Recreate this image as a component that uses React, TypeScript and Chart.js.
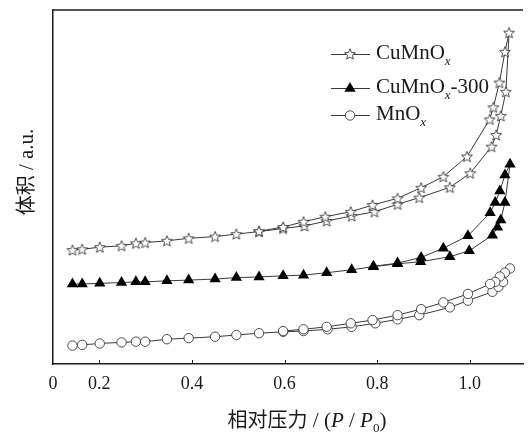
import React, { useEffect, useRef } from 'react';
import { Chart, registerables } from 'chart.js';

Chart.register(...registerables);

// ---------- data ----------
const xTickValues = [0.1, 0.2, 0.4, 0.6, 0.8, 1.0];
const xTickLabels = ['0', '0.2', '0.4', '0.6', '0.8', '1.0'];
const xInnerTicks = [0.2, 0.4, 0.6, 0.8, 1.0];

// CuMnOx (stars): adsorption then desorption
const cuAdsP = [0.142, 0.163, 0.201, 0.248, 0.279, 0.299, 0.346, 0.393, 0.450, 0.496, 0.545, 0.597, 0.643, 0.691, 0.745, 0.794, 0.844, 0.891, 0.957, 1.001, 1.047, 1.057, 1.067, 1.078, 1.085];
const cuAdsV = [32.2, 32.4, 33.0, 33.4, 34.1, 34.3, 34.8, 35.5, 36.0, 36.7, 37.4, 38.3, 39.0, 40.4, 41.8, 43.0, 45.1, 47.0, 49.9, 53.9, 61.4, 64.7, 70.1, 76.9, 93.6];
const cuDesP = [1.076, 1.064, 1.051, 1.043, 0.994, 0.943, 0.895, 0.844, 0.790, 0.743, 0.688, 0.641, 0.597, 0.545];
const cuDesV = [88.2, 79.5, 72.5, 69.1, 58.6, 52.9, 49.8, 46.8, 44.9, 43.0, 41.6, 40.2, 38.7, 37.5];

// CuMnOx-300 (triangles)
const cu300AdsP = [0.142, 0.163, 0.201, 0.248, 0.279, 0.299, 0.346, 0.393, 0.450, 0.496, 0.545, 0.597, 0.641, 0.691, 0.745, 0.792, 0.844, 0.894, 0.957, 0.999, 1.049, 1.060, 1.067, 1.076, 1.087];
const cu300AdsV = [22.6, 22.6, 22.8, 23.0, 23.2, 23.2, 23.5, 23.7, 24.0, 24.4, 24.6, 24.9, 25.1, 25.8, 26.6, 27.5, 28.3, 28.9, 30.3, 32.0, 36.4, 38.6, 40.7, 45.6, 56.4];
const cu300DesP = [1.076, 1.065, 1.055, 1.044, 0.996, 0.943, 0.895, 0.844, 0.792];
const cu300DesV = [53.4, 48.9, 45.6, 42.7, 36.2, 32.7, 30.1, 28.5, 27.6];

// MnOx (circles)
const mnAdsP = [0.142, 0.163, 0.201, 0.248, 0.279, 0.299, 0.346, 0.393, 0.450, 0.496, 0.545, 0.597, 0.641, 0.693, 0.745, 0.796, 0.844, 0.891, 0.957, 0.996, 1.049, 1.062, 1.072, 1.087];
const mnAdsV = [5.2, 5.4, 5.8, 6.1, 6.3, 6.3, 7.0, 7.3, 7.7, 8.2, 8.7, 9.1, 9.3, 9.8, 10.5, 11.5, 12.6, 13.8, 16.0, 17.9, 20.4, 21.8, 23.2, 27.0];
const mnDesP = [1.076, 1.065, 1.055, 1.044, 0.996, 0.943, 0.895, 0.844, 0.790, 0.743, 0.691, 0.641, 0.597];
const mnDesV = [25.8, 24.7, 23.2, 22.6, 19.8, 17.4, 15.5, 13.8, 12.4, 11.5, 10.5, 9.8, 9.3];

const seriesBase = ['CuMnO', 'CuMnO', 'MnO'];
const seriesSuffix = ['', '-300', ''];

const SERIF = '"Liberation Serif", "Times New Roman", serif';
const CJK = '"Noto Sans CJK SC", sans-serif';
const LINE = '#3a3a3a';
const INK = '#1a1a1a';

function loop(aP: number[], aV: number[], dP: number[], dV: number[]) {
  return [
    ...aP.map((x, i) => ({ x, y: aV[i] })),
    ...dP.map((x, i) => ({ x, y: dV[i] })),
  ];
}

function makeStar(): HTMLCanvasElement {
  const c = document.createElement('canvas');
  c.width = 14;
  c.height = 14;
  const g = c.getContext('2d')!;
  g.beginPath();
  for (let i = 0; i < 10; i++) {
    const r = i % 2 === 0 ? 5.7 : 2.5;
    const a = -Math.PI / 2 + (i * Math.PI) / 5;
    const px = 7 + r * Math.cos(a);
    const py = 7.5 + r * Math.sin(a);
    if (i === 0) g.moveTo(px, py);
    else g.lineTo(px, py);
  }
  g.closePath();
  g.fillStyle = '#fff';
  g.fill();
  g.lineWidth = 0.8;
  g.strokeStyle = '#222';
  g.stroke();
  return c;
}

type Seg = { t: string; f: string; dy?: number };

function drawSegs(ctx: CanvasRenderingContext2D, segs: Seg[], cx: number, baseY: number, align: 'center' | 'left') {
  let total = 0;
  const widths = segs.map((s) => {
    ctx.font = s.f;
    const w = ctx.measureText(s.t).width;
    total += w;
    return w;
  });
  let x = align === 'center' ? cx - total / 2 : cx;
  ctx.textAlign = 'left';
  ctx.textBaseline = 'alphabetic';
  segs.forEach((s, i) => {
    ctx.font = s.f;
    ctx.fillText(s.t, x, baseY + (s.dy || 0));
    x += widths[i];
  });
}

function drawTriangle(ctx: CanvasRenderingContext2D, x: number, y: number, r: number) {
  let rad = 0;
  const step = (2 * Math.PI) / 3;
  ctx.beginPath();
  ctx.moveTo(x + Math.sin(rad) * r, y - Math.cos(rad) * r);
  rad += step;
  ctx.lineTo(x + Math.sin(rad) * r, y - Math.cos(rad) * r);
  rad += step;
  ctx.lineTo(x + Math.sin(rad) * r, y - Math.cos(rad) * r);
  ctx.closePath();
  ctx.fillStyle = '#000';
  ctx.fill();
}

export default function App() {
  const ref = useRef<HTMLCanvasElement>(null);

  useEffect(() => {
    document.body.style.margin = '0';
    const canvas = ref.current!;
    const star = makeStar();

    const decor = {
      id: 'decor',
      afterDraw(chart: any) {
        const { ctx, chartArea } = chart;
        const xs = chart.scales.x;
        ctx.save();
        // top frame line
        ctx.strokeStyle = INK;
        ctx.lineWidth = 1.5;
        ctx.beginPath();
        ctx.moveTo(chartArea.left - 0.75, chartArea.top);
        ctx.lineTo(chartArea.right, chartArea.top);
        ctx.stroke();
        // inner tick marks
        ctx.lineWidth = 1;
        xInnerTicks.forEach((v) => {
          const px = Math.round(xs.getPixelForValue(v)) + 0.5;
          ctx.beginPath();
          ctx.moveTo(px, chartArea.bottom);
          ctx.lineTo(px, chartArea.bottom - 4);
          ctx.stroke();
        });

        // legend
        const rows = [54, 88, 115];
        ctx.fillStyle = INK;
        rows.forEach((ry, i) => {
          ctx.strokeStyle = LINE;
          ctx.lineWidth = 1;
          ctx.beginPath();
          ctx.moveTo(331, ry + 0.5);
          ctx.lineTo(370, ry + 0.5);
          ctx.stroke();
          if (i === 0) {
            ctx.drawImage(star, 350 - 7, ry - 7);
          } else if (i === 1) {
            drawTriangle(ctx, 350, ry + 0.5, 6.5);
          } else {
            ctx.beginPath();
            ctx.arc(350, ry + 0.5, 4.7, 0, Math.PI * 2);
            ctx.fillStyle = '#fff';
            ctx.fill();
            ctx.strokeStyle = LINE;
            ctx.lineWidth = 0.9;
            ctx.stroke();
          }
          ctx.fillStyle = INK;
          const segs: Seg[] = [
            { t: seriesBase[i], f: `21px ${SERIF}` },
            { t: 'x', f: `italic 13px ${SERIF}`, dy: 6 },
          ];
          if (seriesSuffix[i]) segs.push({ t: seriesSuffix[i], f: `21px ${SERIF}` });
          drawSegs(ctx, segs, 376, ry + 5, 'left');
        });

        // x title
        ctx.fillStyle = INK;
        drawSegs(
          ctx,
          [
            { t: '相对压力', f: `20px ${CJK}` },
            { t: ' / (', f: `21px ${SERIF}` },
            { t: 'P', f: `italic 21px ${SERIF}` },
            { t: ' / ', f: `21px ${SERIF}` },
            { t: 'P', f: `italic 21px ${SERIF}` },
            { t: '0', f: `13px ${SERIF}`, dy: 5 },
            { t: ')', f: `21px ${SERIF}` },
          ],
          307,
          427,
          'center'
        );

        // y title
        ctx.translate(33, 172);
        ctx.rotate(-Math.PI / 2);
        drawSegs(
          ctx,
          [
            { t: '体积', f: `20px ${CJK}` },
            { t: ' / ', f: `21px ${SERIF}` },
            { t: 'a.u.', f: `21px ${SERIF}` },
          ],
          0,
          0,
          'center'
        );
        ctx.restore();
      },
    };

    const chart = new Chart(canvas, {
      type: 'line',
      data: {
        datasets: [
          {
            label: 'CuMnOx',
            data: loop(cuAdsP, cuAdsV, cuDesP, cuDesV),
            borderColor: LINE,
            borderWidth: 1,
            pointStyle: star as any,
            pointRadius: 6,
            pointHoverRadius: 6,
          },
          {
            label: 'CuMnOx-300',
            data: loop(cu300AdsP, cu300AdsV, cu300DesP, cu300DesV),
            borderColor: LINE,
            borderWidth: 1,
            pointStyle: 'triangle',
            pointRadius: 6.5,
            pointBackgroundColor: '#000',
            pointBorderColor: '#000',
            pointBorderWidth: 0,
          },
          {
            label: 'MnOx',
            data: loop(mnAdsP, mnAdsV, mnDesP, mnDesV),
            borderColor: LINE,
            borderWidth: 1,
            pointStyle: 'circle',
            pointRadius: 4.7,
            pointBackgroundColor: '#fff',
            pointBorderColor: LINE,
            pointBorderWidth: 0.9,
          },
        ],
      },
      options: {
        animation: false,
        responsive: false,
        events: [],
        layout: { padding: { top: 10, right: 0, left: 0, bottom: 0 } },
        plugins: { legend: { display: false }, tooltip: { enabled: false } },
        elements: { line: { tension: 0 } },
        scales: {
          x: {
            type: 'linear',
            min: 0.1,
            max: 1.115,
            grid: { display: false, drawTicks: false },
            border: { display: true, color: INK, width: 1.5 },
            afterBuildTicks: (scale: any) => {
              scale.ticks = xTickValues.map((v) => ({ value: v }));
            },
            afterFit: (scale: any) => {
              scale.height = 69;
            },
            ticks: {
              autoSkip: false,
              maxRotation: 0,
              padding: 9,
              color: INK,
              font: { family: SERIF, size: 18 },
              callback: (v: any) => {
                const i = xTickValues.findIndex((t) => Math.abs(t - Number(v)) < 1e-6);
                return i >= 0 ? xTickLabels[i] : '';
              },
            },
          },
          y: {
            type: 'linear',
            min: 0,
            max: 100,
            grid: { display: false, drawTicks: false },
            border: { display: true, color: INK, width: 1.5 },
            ticks: { display: false },
            afterFit: (scale: any) => {
              scale.width = 53;
            },
          },
        },
      },
      plugins: [decor],
    });

    return () => chart.destroy();
  }, []);

  return (
    <div style={{ width: 530, height: 433, position: 'relative' }}>
      <canvas ref={ref} width={530} height={433} style={{ display: 'block' }} />
    </div>
  );
}
